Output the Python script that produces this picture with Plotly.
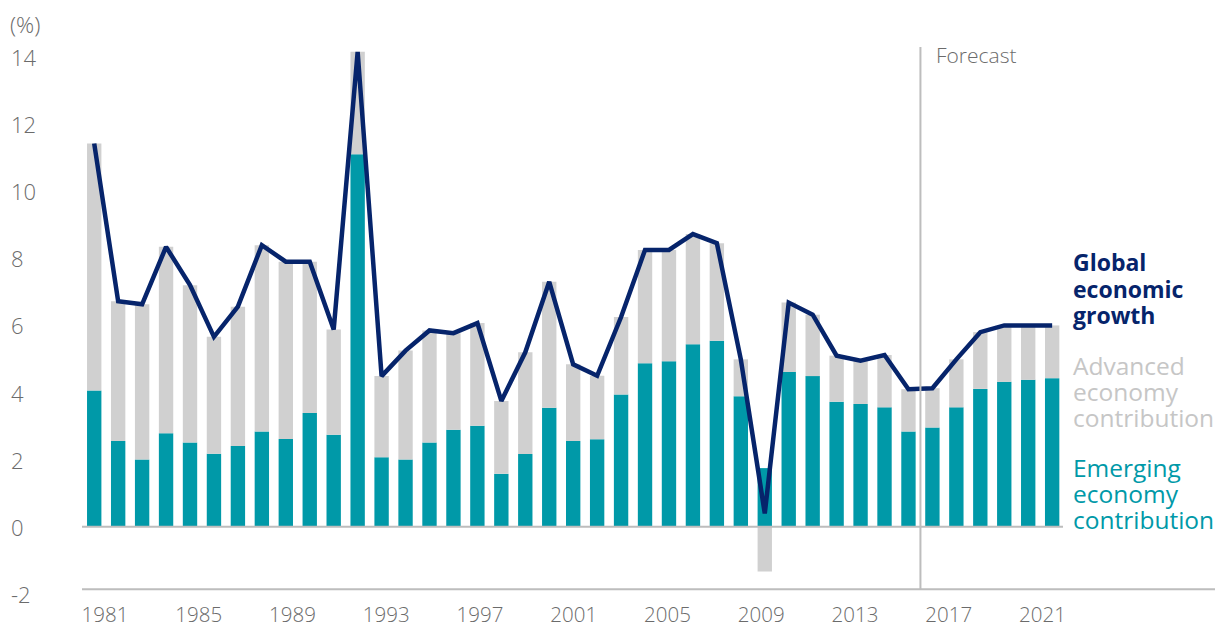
import plotly.graph_objects as go

years = list(range(1981, 2022))
global_growth = [11.42, 6.72, 6.63, 8.34, 7.20, 5.66, 6.56, 8.39, 7.90, 7.90,
                 5.88, 14.15, 4.49, 5.25, 5.85, 5.77, 6.07, 3.75, 5.20, 7.30,
                 4.84, 4.50, 6.25, 8.25, 8.25, 8.72, 8.45, 4.99, 0.40, 6.68,
                 6.32, 5.10, 4.95, 5.12, 4.10, 4.13, 4.99, 5.80, 6.00, 6.00, 6.00]
emerging = [4.06, 2.56, 2.01, 2.79, 2.51, 2.18, 2.41, 2.84, 2.62, 3.39,
            2.74, 11.10, 2.07, 2.01, 2.51, 2.89, 3.01, 1.58, 2.17, 3.55,
            2.56, 2.61, 3.94, 4.87, 4.93, 5.44, 5.54, 3.89, 1.75, 4.61,
            4.49, 3.73, 3.66, 3.56, 2.84, 2.96, 3.56, 4.11, 4.32, 4.38, 4.43]
advanced = [7.36, 4.16, 4.62, 5.55, 4.69, 3.48, 4.15, 5.55, 5.28, 4.51,
            3.14, 3.05, 2.42, 3.24, 3.34, 2.88, 3.06, 2.17, 3.03, 3.75,
            2.28, 1.89, 2.31, 3.38, 3.32, 3.28, 2.91, 1.10, -1.33, 2.07,
            1.83, 1.37, 1.29, 1.56, 1.26, 1.17, 1.43, 1.69, 1.68, 1.62, 1.57]
tick_years = [1981, 1985, 1989, 1993, 1997, 2001, 2005, 2009, 2013, 2017, 2021]
y_ticks = [-2, 0, 2, 4, 6, 8, 10, 12, 14]
forecast_start = 2015.5

NAVY = "#06246b"
TEAL = "#0099a8"
GREY = "#d0d0d0"
TXT = "#6b6b6b"
AXIS = "#bdbdbd"
FONT = "Open Sans"

W, H = 1227, 626
L, R, T, B = 82, 12, 30, 32
X0, X1 = 1980.49, 2027.8
Y0, Y1 = -2.0, 14.8
plot_h = H - T - B
plot_w = W - L - R

def px_to_xdata(px):
    return X0 + (px - L) / plot_w * (X1 - X0)

def px_to_py(py):
    return (H - B - py) / plot_h

def px_to_px_paper(px):
    return (px - L) / plot_w

fig = go.Figure()
fig.add_trace(go.Bar(x=years, y=emerging, marker=dict(color=TEAL, line=dict(width=0)),
                     width=0.6, name="Emerging economy contribution"))
fig.add_trace(go.Bar(x=years, y=advanced, marker=dict(color=GREY, line=dict(width=0)),
                     width=0.6, name="Advanced economy contribution"))
fig.add_trace(go.Scatter(x=years, y=global_growth, mode="lines",
                         line=dict(color=NAVY, width=4.5), name="Global economic growth"))

# tick label positions (labels sit on a slightly different spacing than bars)
tickvals = [px_to_xdata(105 + i * 93.75) for i in range(len(tick_years))]

fig.update_layout(
    width=W, height=H,
    margin=dict(l=L, r=R, t=T, b=B, autoexpand=False),
    paper_bgcolor="white", plot_bgcolor="white",
    barmode="relative",
    showlegend=False,
    font=dict(family=FONT, color=TXT),
    xaxis=dict(range=[X0, X1], showgrid=False, zeroline=False, showline=False,
               tickmode="array", tickvals=tickvals, ticktext=[str(t) for t in tick_years],
               ticks="outside", ticklen=2, tickcolor="rgba(0,0,0,0)",
               tickfont=dict(family=FONT, size=20.5, color=TXT, weight=300), automargin=False),
    yaxis=dict(range=[Y0, Y1], showgrid=False, zeroline=False, showline=False,
               showticklabels=False, automargin=False),
)

# zero line
fig.add_shape(type="line", xref="x", yref="y", x0=X0, x1=px_to_xdata(1063), y0=0, y1=0,
              line=dict(color=AXIS, width=2), layer="above")
# bottom axis line
fig.add_shape(type="line", xref="paper", yref="y", x0=0, x1=1, y0=-1.86, y1=-1.86,
              line=dict(color=AXIS, width=2))
# forecast line
fig.add_shape(type="line", xref="x", yref="y", x0=forecast_start, x1=forecast_start,
              y0=-1.86, y1=14.29, line=dict(color=AXIS, width=2))

# y tick labels, left aligned
for v in y_ticks:
    fig.add_annotation(x=px_to_px_paper(9), xref="paper", y=v, yref="y",
                       text=str(v), showarrow=False, xanchor="left", yanchor="middle",
                       font=dict(family=FONT, size=22, color=TXT, weight=300))
fig.add_annotation(x=px_to_px_paper(8), xref="paper", y=px_to_py(25), yref="paper",
                   text="(%)", showarrow=False, xanchor="left", yanchor="middle",
                   font=dict(family=FONT, size=22.5, color=TXT, weight=300))
fig.add_annotation(x=forecast_start, xref="x", y=px_to_py(55), yref="paper",
                   text="Forecast", showarrow=False, xanchor="left", yanchor="middle",
                   xshift=14, font=dict(family=FONT, size=21, color=TXT, weight=300))

legend_lines = [
    ("Global", 262, NAVY, 700, 23), ("economic", 289, NAVY, 700, 23), ("growth", 315, NAVY, 700, 23),
    ("Advanced", 365, "#c6c6c6", 400, 24.5), ("economy", 391, "#c6c6c6", 400, 24.5),
    ("contribution", 417, "#c6c6c6", 400, 24.5),
    ("Emerging", 467, TEAL, 400, 24.5), ("economy", 493, TEAL, 400, 24.5),
    ("contribution", 519, TEAL, 400, 24.5),
]
for txt, py, col, wt, sz in legend_lines:
    fig.add_annotation(x=px_to_px_paper(1071), xref="paper", y=px_to_py(py), yref="paper",
                       text=txt, showarrow=False, xanchor="left", yanchor="middle",
                       font=dict(family=FONT, size=sz, color=col, weight=wt))

fig.write_html("out.html", config={"displayModeBar": False},
               post_script="document.body.style.margin='0px';")
